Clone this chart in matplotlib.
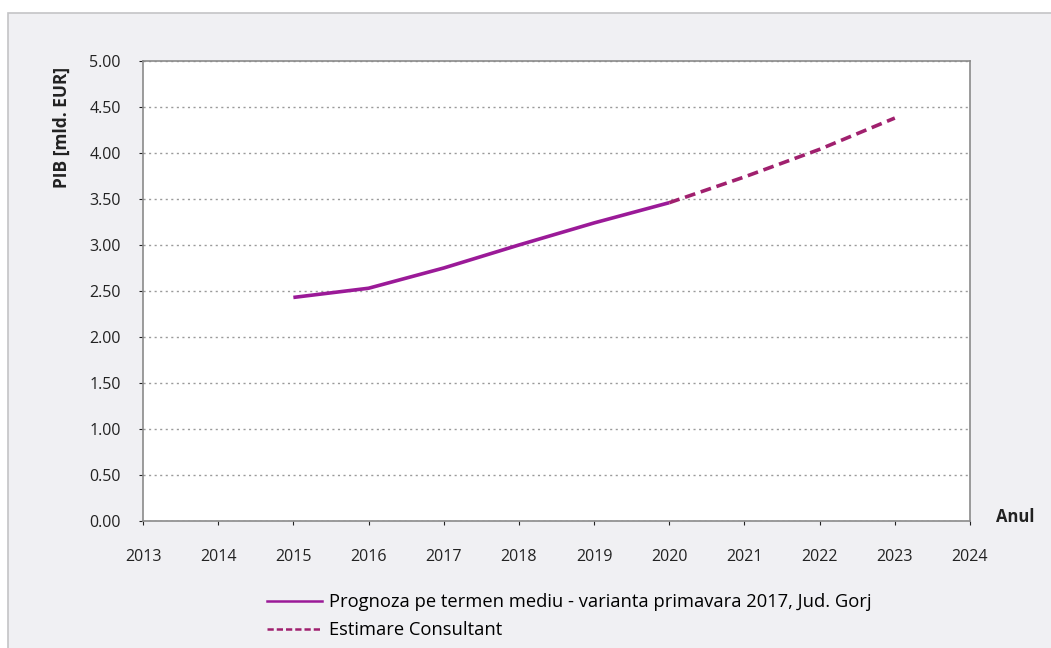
import matplotlib.pyplot as plt
from matplotlib.patches import Rectangle
from matplotlib.lines import Line2D

plt.rcParams['font.family'] = ['Open Sans', 'DejaVu Sans']

# date
ani_prognoza = [2015, 2016, 2017, 2018, 2019, 2020]
pib_prognoza = [2.43, 2.53, 2.75, 3.00, 3.24, 3.46]
ani_estimare = [2020, 2021, 2022, 2023]
pib_estimare = [3.46, 3.74, 4.04, 4.38]
yticks = [0.0, 0.5, 1.0, 1.5, 2.0, 2.5, 3.0, 3.5, 4.0, 4.5, 5.0]
xticks = list(range(2013, 2025))

fig = plt.figure(figsize=(10.51, 6.48), dpi=100, facecolor='white')

# fundal gri al zonei graficului
fig.patches.append(Rectangle((8 / 1051, -0.01), 1.02, 0.98 + 0.01,
                             transform=fig.transFigure, facecolor='#f0f0f3',
                             edgecolor='#c4c4c6', linewidth=1.2, zorder=-10))

ax = fig.add_axes([143 / 1051, 1 - 521 / 648, 827 / 1051, 460 / 648])
ax.set_facecolor('white')

ax.plot(ani_prognoza, pib_prognoza, color='#9b1a98', linewidth=2.6,
        solid_capstyle='butt', zorder=3)
ax.plot(ani_estimare, pib_estimare, color='#a0206e', linewidth=2.6,
        linestyle=(0, (3, 1.6)), zorder=3)

ax.set_xlim(2013, 2024)
ax.set_ylim(0, 5)
ax.set_xticks(xticks)
ax.set_yticks(yticks)
ax.set_yticklabels([f'{v:.2f}' for v in yticks])
ax.tick_params(axis='both', labelsize=11.5, colors='#222222', length=3, width=0.8)
ax.tick_params(axis='x', pad=17)
ax.tick_params(axis='y', pad=13)

ax.grid(axis='y', linestyle=(0, (1.5, 2.5)), color='#9a9a9a', linewidth=1)
for s in ax.spines.values():
    s.set_color('#8a8a8a')
    s.set_linewidth(1.2)

fig.text(62 / 1051, 1 - 127 / 648, 'PIB [mld. EUR]', rotation=90, fontsize=12.5,
         fontweight='bold', ha='center', va='center', color='#222222')
fig.text(1015 / 1051, 1 - 517 / 648, 'Anul', fontsize=12, fontweight='bold',
         ha='center', va='center', color='#222222')

handles = [Line2D([], [], color='#9b1a98', linewidth=1.8),
           Line2D([], [], color='#a0206e', linewidth=1.8, linestyle=(0, (2.5, 1.2)))]
labels = ['Prognoza pe termen mediu - varianta primavara 2017, Jud. Gorj',
          'Estimare Consultant']
fig.legend(handles, labels, loc='upper left', bbox_to_anchor=(260 / 1051, 1 - 586 / 648),
           frameon=False, fontsize=13.2, handlelength=3.0, handletextpad=0.35,
           labelspacing=0.55, borderaxespad=0)

fig.savefig('out.png', dpi=100, facecolor=fig.get_facecolor())
